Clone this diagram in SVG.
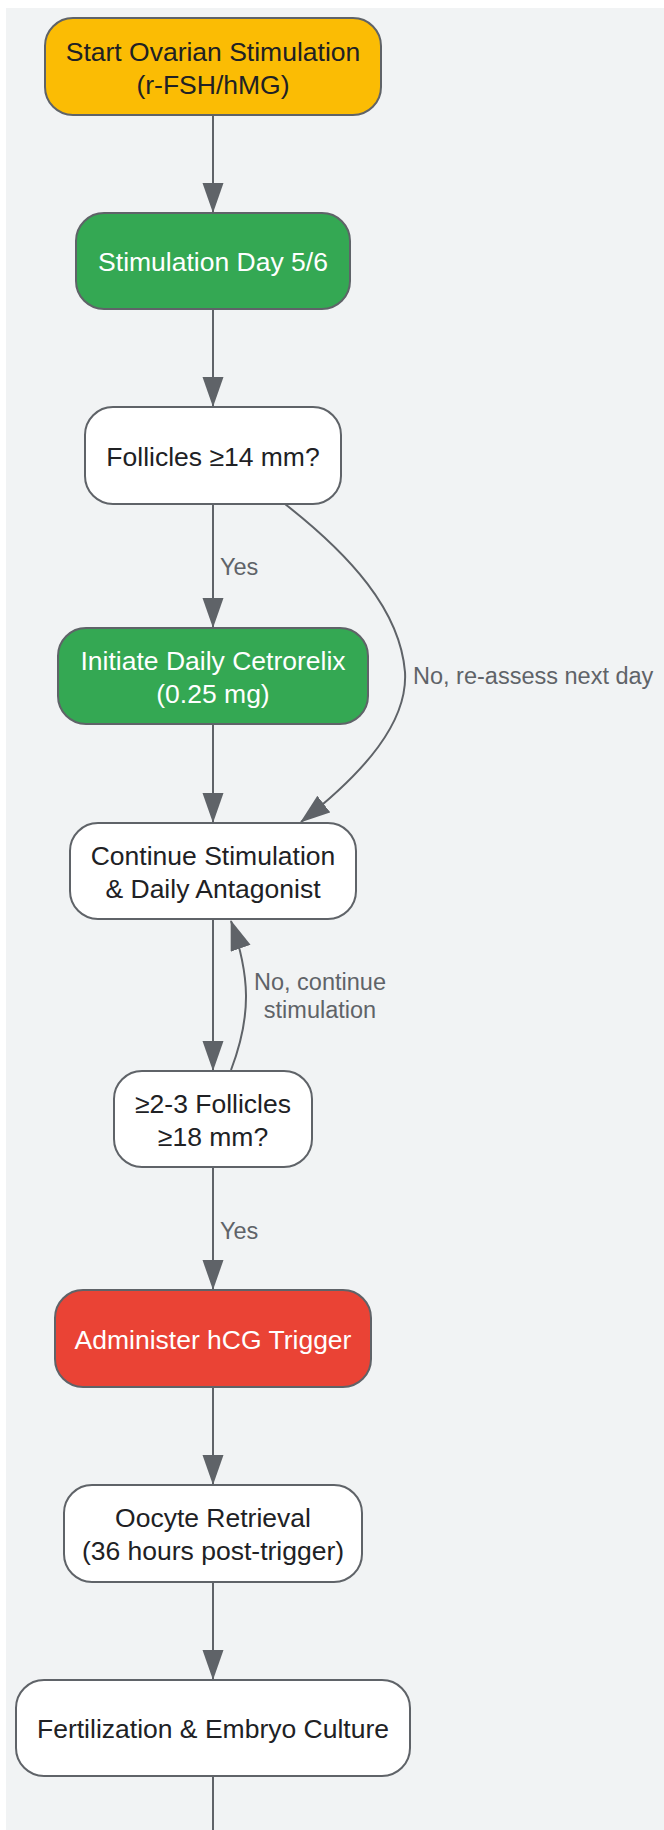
<svg xmlns="http://www.w3.org/2000/svg" width="664" height="1830" viewBox="0 0 664 1830">
<style>
.node rect{stroke:#5f6368;stroke-width:2}
.t{font-family:"Liberation Sans",Arial,sans-serif;font-size:26.5px;text-anchor:middle;fill:#202124}
.w{fill:#ffffff}
.lbl{font-family:"Liberation Sans",Arial,sans-serif;font-size:23.5px;fill:#5f6368}
.edge{fill:none;stroke:#5f6368;stroke-width:2;marker-end:url(#arr)}
</style>
<defs>
<marker id="arr" markerUnits="userSpaceOnUse" markerWidth="30" markerHeight="22" refX="29" refY="10.5" orient="auto">
<path d="M0,0 L30,10.5 L0,21 z" fill="#5f6368"/>
</marker>
</defs>
<rect x="0" y="0" width="664" height="1830" fill="#ffffff"/>
<rect x="6" y="8" width="658" height="1822" fill="#f1f3f4"/>

<g id="connectors">
<path class="edge" d="M213,115 L213,212"/>
<path class="edge" d="M213,309 L213,406"/>
<path class="edge" d="M213,504 L213,627"/>
<path class="edge" d="M213,724 L213,822"/>
<path class="edge" d="M285,504 C350,555 400,610 405,672 C408,722 365,772 301,822"/>
<path class="edge" d="M213,919 L213,1070"/>
<path class="edge" d="M231,1070 C252,1015 250,975 231,921"/>
<path class="edge" d="M213,1167 L213,1289"/>
<path class="edge" d="M213,1387 L213,1484"/>
<path class="edge" d="M213,1582 L213,1679"/>
<path d="M213,1776 L213,1830" fill="none" stroke="#5f6368" stroke-width="2"/>
<text class="lbl" x="220" y="575">Yes</text>
<text class="lbl" x="413" y="684">No, re-assess next day</text>
<text class="lbl" x="320" y="990" text-anchor="middle">No, continue</text>
<text class="lbl" x="320" y="1018" text-anchor="middle">stimulation</text>
<text class="lbl" x="220" y="1239">Yes</text>
</g>

<g id="start" class="node">
<rect x="45" y="18" width="336" height="97" rx="28" fill="#fbbc04"/>
<text class="t" x="213" y="60.5">Start Ovarian Stimulation</text>
<text class="t" x="213" y="93.5">(r-FSH/hMG)</text>
</g>
<g id="day56" class="node">
<rect x="76" y="213" width="274" height="96" rx="28" fill="#34a853"/>
<text class="t w" x="213" y="271">Stimulation Day 5/6</text>
</g>
<g id="foll14" class="node">
<rect x="85" y="407" width="256" height="97" rx="28" fill="#ffffff"/>
<text class="t" x="213" y="465.5">Follicles ≥14 mm?</text>
</g>
<g id="cetro" class="node">
<rect x="58" y="628" width="310" height="96" rx="28" fill="#34a853"/>
<text class="t w" x="213" y="669.5">Initiate Daily Cetrorelix</text>
<text class="t w" x="213" y="702.5">(0.25 mg)</text>
</g>
<g id="continue" class="node">
<rect x="70" y="823" width="286" height="96" rx="28" fill="#ffffff"/>
<text class="t" x="213" y="864.5">Continue Stimulation</text>
<text class="t" x="213" y="897.5">&amp; Daily Antagonist</text>
</g>
<g id="foll18" class="node">
<rect x="114" y="1071" width="198" height="96" rx="28" fill="#ffffff"/>
<text class="t" x="213" y="1112.5">≥2-3 Follicles</text>
<text class="t" x="213" y="1145.5">≥18 mm?</text>
</g>
<g id="hcg" class="node">
<rect x="55" y="1290" width="316" height="97" rx="28" fill="#ea4335"/>
<text class="t w" x="213" y="1348.5">Administer hCG Trigger</text>
</g>
<g id="retrieval" class="node">
<rect x="64" y="1485" width="298" height="97" rx="28" fill="#ffffff"/>
<text class="t" x="213" y="1527">Oocyte Retrieval</text>
<text class="t" x="213" y="1560">(36 hours post-trigger)</text>
</g>
<g id="culture" class="node">
<rect x="16" y="1680" width="394" height="96" rx="28" fill="#ffffff"/>
<text class="t" x="213" y="1738">Fertilization &amp; Embryo Culture</text>
</g>
</svg>
